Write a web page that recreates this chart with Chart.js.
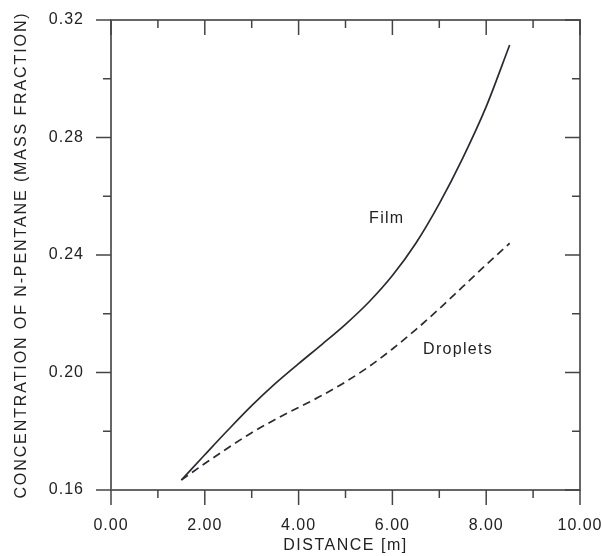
<!DOCTYPE html>
<html>
<head>
<meta charset="utf-8">
<script src="https://cdn.jsdelivr.net/npm/chart.js@4.4.0/dist/chart.umd.min.js"></script>
<style>
  html, body { margin: 0; padding: 0; background: #fff; }
  canvas { display: block; }
</style>
</head>
<body>
<canvas id="chart" width="602" height="556"></canvas>
<script>
// distance along the pipe [m]
const distance = [1.5, 2.0, 2.5, 3.0, 3.5, 4.0, 4.5, 5.0, 5.5, 6.0, 6.5, 7.0, 7.5, 8.0, 8.5];
// n-pentane mass fraction
const filmConc    = [0.1634, 0.1720, 0.1805, 0.1887, 0.1962, 0.2030, 0.2096, 0.2164, 0.2240, 0.2330, 0.2440, 0.2575, 0.2730, 0.2905, 0.3115];
const dropletConc = [0.1634, 0.1690, 0.1744, 0.1795, 0.1840, 0.1881, 0.1922, 0.1968, 0.2020, 0.2080, 0.2146, 0.2217, 0.2292, 0.2367, 0.2440];

const xRange = { min: 0, max: 10, step: 2 };
const yRange = { min: 0.16, max: 0.32, step: 0.04 };

const xTitle = 'DISTANCE [m]';
const yTitle = 'CONCENTRATION OF N-PENTANE (MASS FRACTION)';

// text placed next to each curve (data coords)
const curveLabels = [
  { text: 'Film', x: 5.88, y: 0.2525 },
  { text: 'Droplets', x: 7.4, y: 0.2077 }
];

const FONT = '"Liberation Sans", Arial, sans-serif';
const INK = '#222';

const noPad = s => { s.paddingTop = 0; s.paddingBottom = 0; s.paddingLeft = 0; s.paddingRight = 0; };

const framePlugin = {
  id: 'frame',
  beforeDraw(chart) {
    chart.ctx.letterSpacing = '1px';
  },
  afterDraw(chart) {
    const { ctx, chartArea: a, scales: { x, y } } = chart;
    ctx.save();

    // box
    ctx.strokeStyle = '#666';
    ctx.lineWidth = 2;
    ctx.strokeRect(a.left, a.top, a.right - a.left, a.bottom - a.top);

    // tick marks: outward on left/bottom, inward on top/right
    ctx.strokeStyle = '#444';
    ctx.lineWidth = 1.5;
    const tick = (x1, y1, x2, y2) => {
      ctx.beginPath(); ctx.moveTo(x1, y1); ctx.lineTo(x2, y2); ctx.stroke();
    };
    const xv = x.ticks.map(t => t.value);
    xv.forEach((v, i) => {
      const px = x.getPixelForValue(v);
      tick(px, a.bottom, px, a.bottom + 15);
      tick(px, a.top, px, a.top + 15);
      if (i < xv.length - 1) {
        const mx = x.getPixelForValue((v + xv[i + 1]) / 2);
        tick(mx, a.bottom, mx, a.bottom + 8);
        tick(mx, a.top, mx, a.top + 8);
      }
    });
    const yv = y.ticks.map(t => t.value);
    yv.forEach((v, i) => {
      const py = y.getPixelForValue(v);
      tick(a.left - 15, py, a.left, py);
      tick(a.right - 15, py, a.right, py);
      if (i < yv.length - 1) {
        const my = y.getPixelForValue((v + yv[i + 1]) / 2);
        tick(a.left - 8, my, a.left, my);
        tick(a.right - 8, my, a.right, my);
      }
    });

    // curve labels
    ctx.fillStyle = INK;
    ctx.font = '16px ' + FONT;
    ctx.textAlign = 'center';
    ctx.textBaseline = 'middle';
    ctx.letterSpacing = '1.3px';
    curveLabels.forEach(l => {
      ctx.fillText(l.text, x.getPixelForValue(l.x), y.getPixelForValue(l.y));
    });

    // axis titles
    ctx.letterSpacing = '1.5px';
    ctx.fillText(xTitle, (a.left + a.right) / 2, 546);
    ctx.translate(22, (a.top + a.bottom) / 2);
    ctx.rotate(-Math.PI / 2);
    ctx.letterSpacing = '1.9px';
    ctx.fillText(yTitle, 0, 0);
    ctx.restore();
  }
};

new Chart(document.getElementById('chart'), {
  type: 'line',
  data: {
    labels: distance,
    datasets: [{
      label: 'Film',
      data: distance.map((d, i) => ({ x: d, y: filmConc[i] })),
      borderColor: '#2a2a33',
      borderWidth: 1.7,
      pointRadius: 0,
      cubicInterpolationMode: 'monotone',
      fill: false
    }, {
      label: 'Droplets',
      data: distance.map((d, i) => ({ x: d, y: dropletConc[i] })),
      borderColor: '#2a2a33',
      borderWidth: 1.7,
      borderDash: [8, 5],
      pointRadius: 0,
      cubicInterpolationMode: 'monotone',
      fill: false
    }]
  },
  options: {
    responsive: false,
    animation: false,
    layout: { padding: { top: 20, right: 22, left: 0, bottom: 0 } },
    plugins: { legend: { display: false }, tooltip: { enabled: false } },
    scales: {
      x: {
        type: 'linear',
        min: xRange.min, max: xRange.max,
        grid: { display: false, drawTicks: false },
        border: { display: false },
        ticks: {
          stepSize: xRange.step,
          padding: 26,
          color: INK,
          font: { family: FONT, size: 16 },
          maxRotation: 0,
          callback: v => v.toFixed(2)
        },
        afterFit: s => { s.height = 66; noPad(s); }
      },
      y: {
        min: yRange.min, max: yRange.max,
        grid: { display: false, drawTicks: false },
        border: { display: false },
        ticks: {
          stepSize: yRange.step,
          padding: 27,
          color: INK,
          font: { family: FONT, size: 16 },
          callback: v => v.toFixed(2)
        },
        afterFit: s => { s.width = 111; noPad(s); }
      }
    }
  },
  plugins: [framePlugin]
});
</script>
</body>
</html>
